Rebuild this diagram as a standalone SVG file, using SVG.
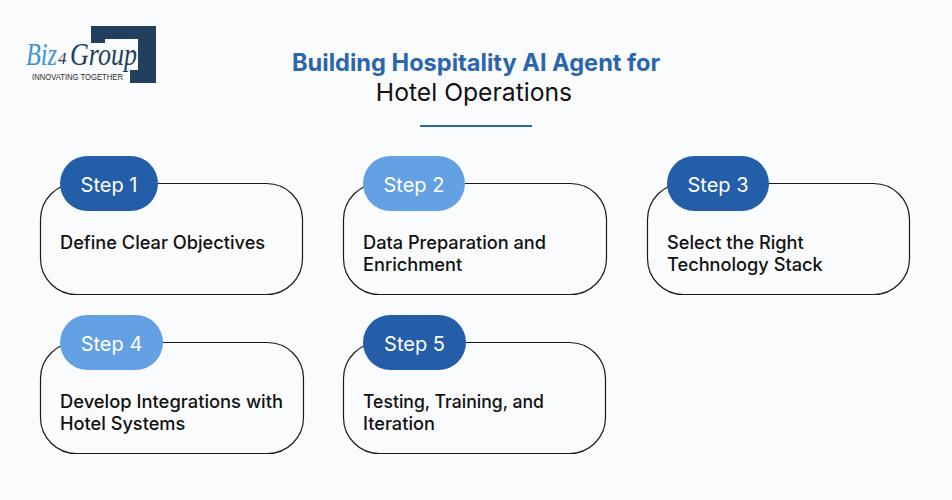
<svg xmlns="http://www.w3.org/2000/svg" width="952" height="500" viewBox="0 0 952 500">
<style>
.t{font-family:"Inter","Noto Sans",sans-serif}
.card{fill:none;stroke:#1a1a1a;stroke-width:1.2}
.step{fill:#fff;font-size:20px;text-anchor:middle;font-family:"Inter","Noto Sans",sans-serif}
.dark{fill:#245da8}
.light{fill:#64a0e4}
.lbl{fill:#111;font-size:18.200px;font-weight:500;font-family:"Inter","Noto Sans",sans-serif}
</style>
<rect width="952" height="500" fill="#f9fbfd"/>
<g id="logo">
<polygon points="91,26 156,26 156,83 130,83 130,70 138,70 138,39 105,39 105,43 91,43" fill="#223f5e"/>
<text x="26" y="65" font-family="Liberation Serif,serif" font-style="italic" font-size="32" fill="#3f93d6" textLength="31" lengthAdjust="spacingAndGlyphs">Biz</text>
<text x="58" y="64" font-family="Liberation Serif,serif" font-style="italic" font-size="17" fill="#223f5e">4</text>
<text x="70" y="65" font-family="Liberation Serif,serif" font-style="italic" font-size="32" fill="#223f5e" textLength="67" lengthAdjust="spacingAndGlyphs">Group</text>
<text x="32" y="80" font-family="Liberation Sans,sans-serif" font-size="8.500" fill="#2b2b2b" textLength="91" lengthAdjust="spacingAndGlyphs">INNOVATING TOGETHER</text>
</g>
<g id="title">
<text class="t" x="476" y="71" text-anchor="middle" font-size="23.600" font-weight="700" fill="#2b66ac">Building Hospitality AI Agent for</text>
<text class="t" x="474" y="101" text-anchor="middle" font-size="24.700" fill="#111">Hotel Operations</text>
<rect x="420" y="125" width="112" height="2" fill="#2b66ac"/>
</g>
<g id="step1">
<rect class="card" x="40.500" y="183.500" width="262" height="111" rx="36"/>
<rect class="dark" x="60" y="156" width="98" height="55" rx="27.500"/>
<text class="step" x="109" y="192">Step 1</text>
<text class="lbl" x="60" y="249">Define Clear Objectives</text>
</g>
<g id="step2">
<rect class="card" x="343.500" y="183.500" width="263" height="111" rx="36"/>
<rect class="light" x="363" y="156" width="102" height="55" rx="27.500"/>
<text class="step" x="414" y="192">Step 2</text>
<text class="lbl" x="363" y="249">Data Preparation and</text>
<text class="lbl" x="363" y="271">Enrichment</text>
</g>
<g id="step3">
<rect class="card" x="647.500" y="183.500" width="262" height="111" rx="36"/>
<rect class="dark" x="667" y="156" width="102" height="55" rx="27.500"/>
<text class="step" x="718" y="192">Step 3</text>
<text class="lbl" x="667" y="249">Select the Right</text>
<text class="lbl" x="667" y="271">Technology Stack</text>
</g>
<g id="step4">
<rect class="card" x="40.500" y="342.500" width="263" height="111" rx="36"/>
<rect class="light" x="60" y="315" width="103" height="55" rx="27.500"/>
<text class="step" x="111.500" y="351">Step 4</text>
<text class="lbl" x="60" y="408" textLength="223" lengthAdjust="spacingAndGlyphs">Develop Integrations with</text>
<text class="lbl" x="60" y="430">Hotel Systems</text>
</g>
<g id="step5">
<rect class="card" x="343.500" y="342.500" width="262" height="111" rx="36"/>
<rect class="dark" x="363" y="315" width="103" height="55" rx="27.500"/>
<text class="step" x="414.500" y="351">Step 5</text>
<text class="lbl" x="363" y="408" textLength="181" lengthAdjust="spacingAndGlyphs">Testing, Training, and</text>
<text class="lbl" x="363" y="430">Iteration</text>
</g>
</svg>
